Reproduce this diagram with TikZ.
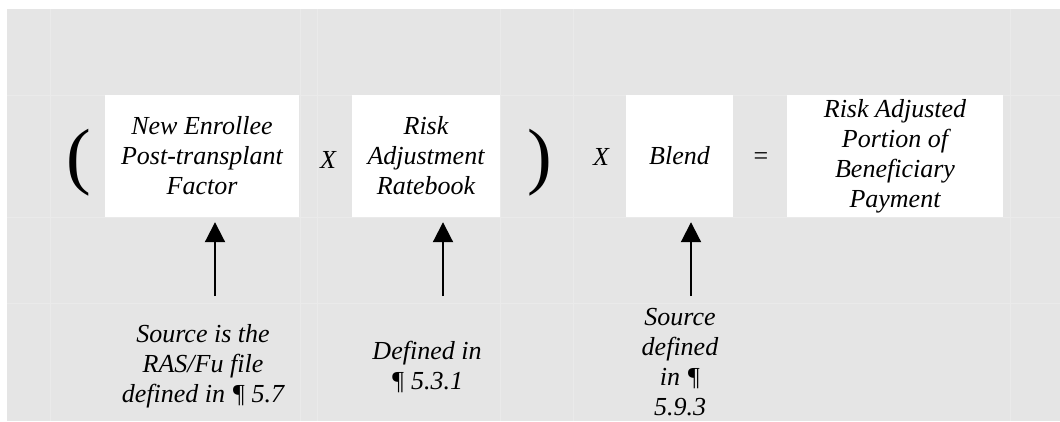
\documentclass[tikz,border=0pt]{standalone}
\usepackage{fontspec}
\setmainfont{Liberation Serif}
\usetikzlibrary{arrows.meta}
\definecolor{bg}{HTML}{E5E5E5}
\definecolor{gridc}{HTML}{EAEAEA}
\begin{document}
\begin{tikzpicture}[x=1pt,y=-1pt,
  box/.style={fill=white,draw=none,minimum height=122pt,inner sep=0pt,align=center,font=\fontsize{26}{30}\selectfont\itshape},
  note/.style={align=center,inner sep=0pt,font=\fontsize{26}{30}\selectfont\itshape},
  op/.style={inner sep=0pt,font=\fontsize{26}{30}\selectfont\itshape},
  eqop/.style={inner sep=0pt,font=\fontsize{26}{30}\selectfont},
  paren/.style={inner sep=0pt,font=\fontsize{74}{74}\selectfont},
  uparrow/.style={-{Triangle[width=20pt,length=20pt]},line width=2pt,shorten >=5pt},
  faint/.style={draw=gridc,line width=0.8pt}]
\useasboundingbox (0,0) rectangle (1060,421);
\fill[white] (0,0) rectangle (1060,421);
\fill[bg] (7,9) rectangle (1060,421);
% faint table grid
\foreach \yy in {95,217,303} \draw[faint] (7,\yy) -- (1060,\yy);
\foreach \xx in {50,300,317,500,573,1010} \draw[faint] (\xx,9) -- (\xx,421);
% boxes
\node[box,minimum width=194pt] (b1) at (202,156) {New Enrollee\\Post-transplant\\Factor};
\node[box,minimum width=148pt] (b2) at (426,156) {Risk\\Adjustment\\Ratebook};
\node[box,minimum width=107pt] (b3) at (679.5,156) {Blend};
\node[box,minimum width=216pt] (b4) at (895,156) {Risk Adjusted\\Portion of\\Beneficiary\\Payment};
% operators
\node[paren] (lp) at (79,163) {(};
\node[op] (x1) at (328,160) {X};
\node[paren] (rp) at (540,163) {)};
\node[op] (x2) at (601,157) {X};
\node[eqop] (eq) at (761,159) {=};
% notes
\node[note] (n1) at (203,366) {Source is the\\RAS/Fu file\\defined in ¶ 5.7};
\node[note] (n2) at (427,367) {Defined in\\¶ 5.3.1};
\node[note] (n3) at (680,362) {Source\\defined\\in ¶\\5.9.3};
% arrows
\coordinate (a1) at (215,296);
\coordinate (a2) at (443,296);
\coordinate (a3) at (691,296);
\draw[uparrow] (a1) -- (a1 |- b1.south);
\draw[uparrow] (a2) -- (a2 |- b2.south);
\draw[uparrow] (a3) -- (a3 |- b3.south);
\end{tikzpicture}
\end{document}
